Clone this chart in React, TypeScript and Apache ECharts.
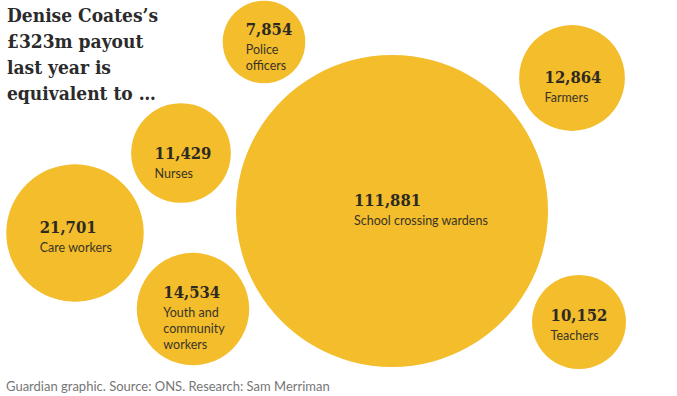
import React, { useEffect, useRef } from "react";
import * as echarts from "echarts";

// ---- data ----
const categories = [
  "School crossing wardens",
  "Care workers",
  "Youth and\ncommunity\nworkers",
  "Farmers",
  "Nurses",
  "Teachers",
  "Police\nofficers",
];
const values = [111881, 21701, 14534, 12864, 11429, 10152, 7854];
// bubble layout positions (chart units)
const layoutX = [392, 75, 193, 572, 181, 579, 264];
const layoutY = [211, 233, 309, 78, 153, 322, 42];

const titleText = "Denise Coates’s\n£323m payout\nlast year is\nequivalent to …";
const sourceText = "Guardian graphic. Source: ONS. Research: Sam Merriman";

// ---- style ----
const W = 677;
const H = 396;
const RADIUS_SCALE = 0.4664;
const YELLOW = "#f3bd2c";
const SERIF = "'DejaVu Serif Condensed', 'DejaVu Serif', serif";
const SANS = "Lato, 'Noto Sans', sans-serif";
// label nudges (px) per bubble, in the same order as categories
const labelDx = [29, 1, 1, 1, 2, 0, 5];
const labelDy = [-3, 2, 7, 7, 8, 1, 3];

export default function App() {
  const ref = useRef<HTMLDivElement>(null);

  useEffect(() => {
    if (!ref.current) return;
    const chart = echarts.init(ref.current, null, { renderer: "svg" });
    const data = values.map((v, i) => ({
      name: categories[i],
      value: [layoutX[i], layoutY[i], v],
      label: { offset: [labelDx[i], labelDy[i]] },
    }));
    chart.setOption({
      animation: false,
      backgroundColor: "#ffffff",
      title: [
        {
          text: titleText,
          left: 7,
          top: 2,
          padding: 0,
          textStyle: {
            fontFamily: SERIF,
            fontWeight: "bold",
            fontSize: 19,
            lineHeight: 26,
            color: "#2b2b2b",
          },
        },
        {
          text: sourceText,
          left: 6,
          bottom: 4,
          padding: 0,
          textStyle: {
            fontFamily: SANS,
            fontWeight: "normal",
            fontSize: 13,
            color: "#767676",
          },
        },
      ],
      grid: { left: 0, right: 0, top: 0, bottom: 0 },
      xAxis: { type: "value", min: 0, max: W, show: false },
      yAxis: { type: "value", min: 0, max: H, inverse: true, show: false },
      series: [
        {
          type: "scatter",
          data,
          symbol: "circle",
          symbolSize: (val: number[]) => 2 * RADIUS_SCALE * Math.sqrt(val[2]),
          itemStyle: { color: YELLOW, opacity: 1 },
          emphasis: { disabled: true },
          label: {
            show: true,
            position: "inside",
            align: "center",
            verticalAlign: "middle",
            formatter: (p: any) => {
              const num = Number(p.value[2]).toLocaleString("en-GB");
              const lines = String(p.name)
                .split("\n")
                .map((l: string) => `{lab|${l}}`)
                .join("\n");
              return `{num|${num}}\n${lines}`;
            },
            rich: {
              num: {
                fontFamily: SERIF,
                fontWeight: "bold",
                fontSize: 16.5,
                lineHeight: 25,
                color: "#2e2a22",
                align: "left",
              },
              lab: {
                fontFamily: SANS,
                fontSize: 12.5,
                lineHeight: 16,
                color: "#3a3426",
                align: "left",
              },
            },
          },
        },
      ],
    });
    return () => chart.dispose();
  }, []);

  return (
    <div
      ref={ref}
      style={{ position: "fixed", left: 0, top: 0, width: W, height: H }}
    />
  );
}
